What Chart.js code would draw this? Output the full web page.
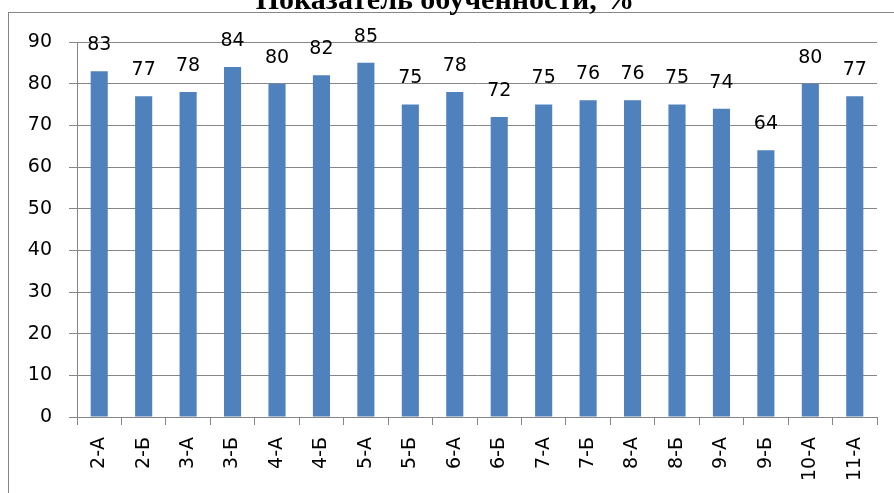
<!DOCTYPE html>
<html>
<head>
<meta charset="utf-8">
<script src="https://cdn.jsdelivr.net/npm/chart.js@4"></script>
<style>
  html, body { margin: 0; padding: 0; background: #fff; }
  #wrap { position: relative; width: 894px; height: 493px; }
</style>
</head>
<body>
<div id="wrap"><canvas id="chart" width="894" height="493"></canvas></div>
<script>
// данные диаграммы
const chartTitle = "Показатель обученности, %";
const classes = ["2-А", "2-Б", "3-А", "3-Б", "4-А", "4-Б", "5-А", "5-Б", "6-А",
                 "6-Б", "7-А", "7-Б", "8-А", "8-Б", "9-А", "9-Б", "10-А", "11-А"];
const values = [83, 77, 78, 84, 80, 82, 85, 75, 78, 72, 75, 76, 76, 75, 74, 64, 80, 77];
const yTicks = [0, 10, 20, 30, 40, 50, 60, 70, 80, 90];

const gridColor = "#868686";
const font = "'DejaVu Sans', sans-serif";

// рамка и заголовок (заголовок срезан сверху, как в оригинале)
const framePlugin = {
    id: "frame",
    beforeDraw(chart) {
        const ctx = chart.ctx;
        ctx.save();
        ctx.strokeStyle = gridColor;
        ctx.lineWidth = 1;
        ctx.strokeRect(8.5, 12.5, 1000, 1000);
        ctx.fillStyle = "#000";
        ctx.font = "bold 30px 'Liberation Serif', 'Times New Roman', serif";
        ctx.textAlign = "center";
        ctx.textBaseline = "alphabetic";
        ctx.fillText(chartTitle, 445, 9);
        ctx.restore();
    }
};

// подписи значений над столбцами
const labelsPlugin = {
    id: "valueLabels",
    afterDatasetsDraw(chart) {
        const ctx = chart.ctx;
        const meta = chart.getDatasetMeta(0);
        ctx.save();
        ctx.fillStyle = "#000";
        ctx.font = "19px " + font;
        ctx.textAlign = "center";
        ctx.textBaseline = "middle";
        meta.data.forEach((bar, i) => {
            ctx.fillText(values[i], bar.x, bar.y - 26);
        });
        ctx.restore();
    }
};

new Chart(document.getElementById("chart").getContext("2d"), {
    type: "bar",
    data: {
        labels: classes,
        datasets: [{
            data: values,
            backgroundColor: "#4F81BD",
            barPercentage: 0.385,
            categoryPercentage: 1
        }]
    },
    options: {
        responsive: false,
        animation: false,
        layout: { padding: { top: 42, right: 17, left: 0, bottom: 0 } },
        plugins: {
            legend: { display: false },
            title: { display: false },
            tooltip: { enabled: false }
        },
        scales: {
            x: {
                afterFit(scale) { scale.height = 76; },
                grid: {
                    offset: true,
                    drawOnChartArea: false,
                    drawTicks: true,
                    tickLength: 8,
                    color: gridColor
                },
                border: { color: gridColor },
                ticks: {
                    color: "#000",
                    font: { family: font, size: 19 },
                    minRotation: 90,
                    maxRotation: 90,
                    padding: 12,
                    autoSkip: false
                }
            },
            y: {
                min: 0,
                max: 90,
                afterFit(scale) { scale.width = 77; },
                afterBuildTicks(scale) { scale.ticks = yTicks.map(v => ({ value: v })); },
                grid: {
                    color: gridColor,
                    tickLength: 8
                },
                border: { color: gridColor },
                ticks: {
                    color: "#000",
                    font: { family: font, size: 19 },
                    padding: 17
                }
            }
        }
    },
    plugins: [framePlugin, labelsPlugin]
});
</script>
</body>
</html>
